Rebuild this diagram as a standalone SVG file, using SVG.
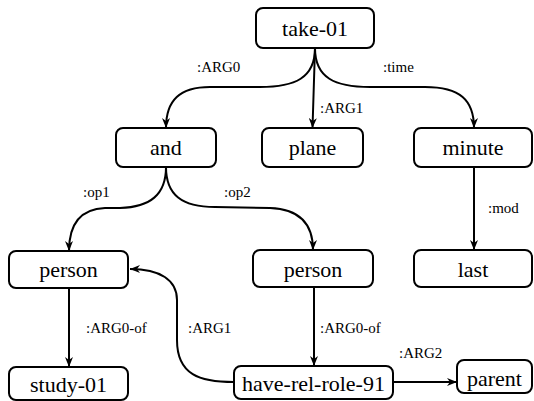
<svg xmlns="http://www.w3.org/2000/svg" width="534" height="401" viewBox="0 0 534 401">
<style>
.box{fill:#fff;stroke:#000;stroke-width:2}
.nl{font-family:"Liberation Serif","Times New Roman",serif;font-size:22px;text-anchor:middle;fill:#000}
.el{font-family:"Liberation Serif","Times New Roman",serif;font-size:15px;fill:#000}
.edge{fill:none;stroke:#000;stroke-width:2}
</style>
<defs>
<marker id="arr" markerUnits="userSpaceOnUse" markerWidth="10" markerHeight="8" refX="10" refY="4" orient="auto">
<path d="M0,0 L10,4 L0,8 L3,4 z" fill="#000"/>
</marker>
</defs>
<rect width="534" height="401" fill="#fff"/>
<g id="connectors">
<path class="edge" marker-end="url(#arr)" d="M315,48 C315,78 295,87 260,87 L210,87 C180,87 166,100 166,128"/>
<path class="edge" marker-end="url(#arr)" d="M315,48 L312.5,128"/>
<path class="edge" marker-end="url(#arr)" d="M315,48 C315,78 335,87 370,87 L425,87 C460,87 474,100 474,128"/>
<path class="edge" marker-end="url(#arr)" d="M166,167 C166,195 150,207 120,208 L105,208 C80,209 69,225 69,251"/>
<path class="edge" marker-end="url(#arr)" d="M166,167 C166,195 182,207 215,207 L270,208 C298,209 313,222 313,250"/>
<path class="edge" marker-end="url(#arr)" d="M474,168 L474,250"/>
<path class="edge" marker-end="url(#arr)" d="M69,288 L69,367"/>
<path class="edge" marker-end="url(#arr)" d="M314,287 L314,366"/>
<path class="edge" marker-end="url(#arr)" d="M234,382 C200,382 177,375 177,340 L177,300 C177,280 160,269 130,269"/>
<path class="edge" marker-end="url(#arr)" d="M393,382 L457,382"/>
<text class="el" x="197" y="72">:ARG0</text>
<text class="el" x="320" y="113">:ARG1</text>
<text class="el" x="383" y="72">:time</text>
<text class="el" x="83" y="197">:op1</text>
<text class="el" x="224" y="197">:op2</text>
<text class="el" x="488" y="213">:mod</text>
<text class="el" x="86" y="333">:ARG0-of</text>
<text class="el" x="188" y="333">:ARG1</text>
<text class="el" x="320" y="333">:ARG0-of</text>
<text class="el" x="399" y="358">:ARG2</text>
</g>
<g id="take-01"><rect class="box" x="256" y="8" width="118" height="40" rx="7"/><text class="nl" x="315" y="36">take-01</text></g>
<g id="and"><rect class="box" x="116" y="128" width="100" height="39" rx="7"/><text class="nl" x="166" y="155">and</text></g>
<g id="plane"><rect class="box" x="262" y="128" width="101" height="39" rx="7"/><text class="nl" x="312.5" y="155">plane</text></g>
<g id="minute"><rect class="box" x="414" y="128" width="118" height="39" rx="7"/><text class="nl" x="473" y="155">minute</text></g>
<g id="person1"><rect class="box" x="9" y="251" width="119" height="37" rx="7"/><text class="nl" x="68.5" y="277">person</text></g>
<g id="person2"><rect class="box" x="253" y="250" width="120" height="37" rx="7"/><text class="nl" x="313" y="277">person</text></g>
<g id="last"><rect class="box" x="414" y="250" width="118" height="37" rx="7"/><text class="nl" x="473" y="277">last</text></g>
<g id="study-01"><rect class="box" x="9" y="367" width="119" height="33" rx="7"/><text class="nl" x="68.5" y="392">study-01</text></g>
<g id="have-rel-role-91"><rect class="box" x="234" y="366" width="159" height="33" rx="7"/><text class="nl" x="313.5" y="391">have-rel-role-91</text></g>
<g id="parent"><rect class="box" x="457" y="360" width="75" height="33" rx="7"/><text class="nl" x="494.5" y="386">parent</text></g>
</svg>
